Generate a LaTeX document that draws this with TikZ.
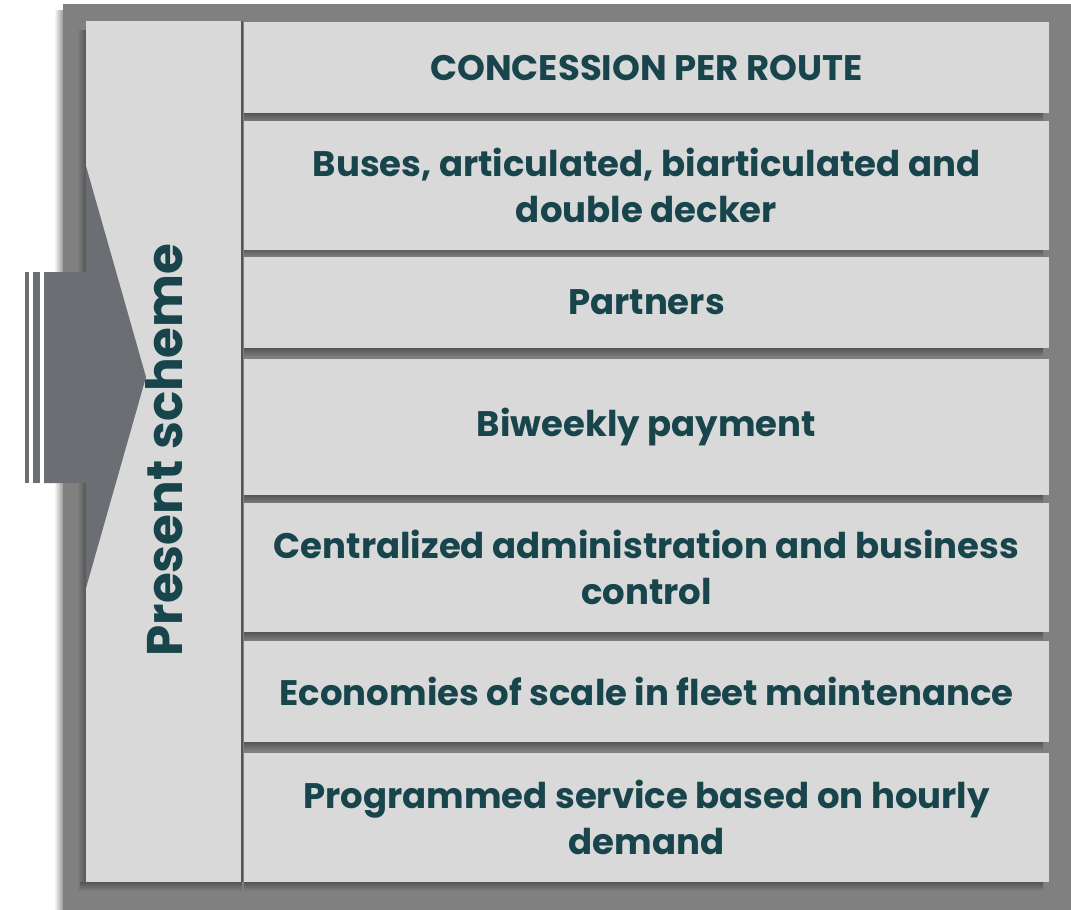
\documentclass[tikz,border=0pt]{standalone}
\usepackage{fontspec}
\setmainfont{Poppins}
\definecolor{frame}{HTML}{808080}
\definecolor{panel}{HTML}{D9D9D9}
\definecolor{arrowc}{HTML}{6B6E73}
\definecolor{txt}{HTML}{18444B}
\definecolor{shad}{HTML}{555555}
\tikzset{
  rowbox/.style={fill=panel, draw=none, inner sep=0pt, minimum width=805pt, align=center,
    font=\fontsize{35.5}{46}\selectfont\bfseries, text=txt},
  rowshadow/.style={top color=shad, bottom color=frame, draw=none},
}
\begin{document}
\begin{tikzpicture}[x=1pt,y=-1pt]
\useasboundingbox (0,0) rectangle (1071,910);
% outer frame with soft left shadow
\shade[left color=white, right color=frame!80] (54,10) rectangle (63,910);
\fill[frame] (63,4) rectangle (1071,910);
% left panel shadows
\shade[left color=frame, right color=shad] (77,30) rectangle (86,890);
\shade[top color=shad, bottom color=frame] (80,882) rectangle (242,891);
\node[fill=panel, inner sep=0pt, minimum width=156pt, minimum height=861pt] (lp) at (164,451.5) {};
% row shadows
\foreach \b in {113,248,348,495,632,742,882}{
  \shade[rowshadow] (244,\b) rectangle (1043,\b+9);
}
% rows
\node[rowbox, minimum height=91pt]  (r1) at (646.5,67.5)  {CONCESSION PER ROUTE};
\node[rowbox, minimum height=129pt] (r2) at (646.5,185) {Buses, articulated, biarticulated and\\double decker};
\node[rowbox, minimum height=91pt]  (r3) at (646.5,302.5) {Partners};
\node[rowbox, minimum height=136pt] (r4) at (646.5,427)   {Biweekly payment};
\node[rowbox, minimum height=129pt] (r5) at (646.5,567.5) {Centralized administration and business\\control};
\node[rowbox, minimum height=101pt] (r6) at (646.5,691.5) {Economies of scale in fleet maintenance};
\node[rowbox, minimum height=129pt] (r7) at (646.5,817.5) {Programmed service based on hourly\\demand};
% separator line
\draw[shad, line width=1.6pt] (lp.north east) -- (lp.south east);
% arrow
\fill[arrowc] (44,272) -- (86,272) -- (86,166) -- (146,377) -- (86,588) -- (86,483) -- (44,483) -- cycle;
\fill[arrowc] (33,272) rectangle (40,483);
\fill[arrowc] (25,272) rectangle (29,483);
% vertical label
\node[rotate=90, font=\fontsize{50}{56}\selectfont\bfseries, text=txt] (lbl) at (164,450) {Present scheme};
\end{tikzpicture}
\end{document}
